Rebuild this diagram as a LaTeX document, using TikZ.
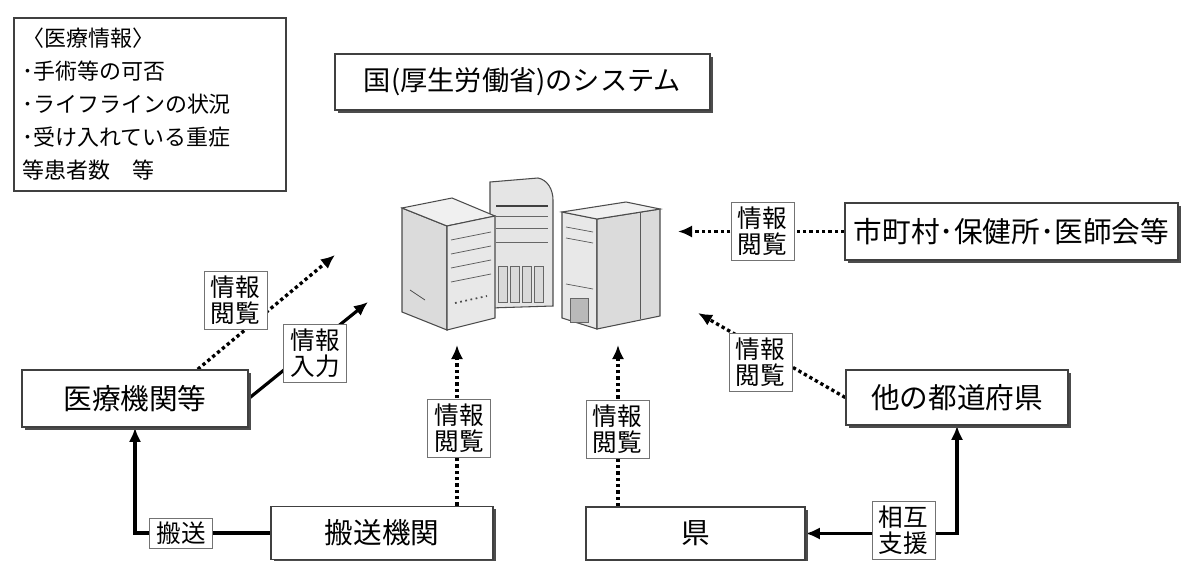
\documentclass[tikz,border=0pt]{standalone}
\usepackage{fontspec}
\setmainfont{Noto Sans CJK JP}
\usetikzlibrary{arrows.meta}
\usetikzlibrary{shadows}
\usetikzlibrary{backgrounds}

\begin{document}
\begin{tikzpicture}[x=0.02cm, y=-0.02cm,
  >={Latex[length=8pt,width=7pt]},
  box/.style={draw=black!75, line width=0.9pt, fill=white,
    font=\fontsize{16.3}{18}\selectfont,
    drop shadow={shadow xshift=1.5pt, shadow yshift=-1.6pt, fill=black!70, opacity=1}},
  tag/.style={draw=black!55, line width=0.5pt, fill=white, align=center,
    inner sep=1pt, minimum width=1.26cm, minimum height=1.16cm,
    font=\fontsize{14}{14.8}\selectfont},
  link/.style={line width=1.8pt, ->},
  view/.style={line width=1.9pt, dash pattern=on 1.9pt off 1.7pt, ->},
  srv/.style={draw=black!70, line width=0.6pt}]
  \useasboundingbox (0,0) rectangle (1181,561);

  \node[draw=black!75, line width=0.9pt, anchor=north west, align=left,
    text width=5.1cm, inner xsep=0.17cm, minimum height=3.46cm,
    font=\fontsize{12.5}{18.8}\selectfont] (info) at (13,17)
    {〈医療情報〉\\･手術等の可否\\･ライフラインの状況\\･受け入れている重症\\等患者数　等};

  \node[box, minimum width=7.5cm, minimum height=1.12cm,
    font=\fontsize{15.5}{17}\selectfont] (sys) at (522.5,82) {国(厚生労働省)のシステム};

  % servers
  \filldraw[srv, fill=gray!20] (490,182) -- (538,178)
    .. controls (548,180) and (553,190) .. (553,200) -- (553,306) -- (490,308) -- cycle;
  \draw[black!75, line width=1.2pt] (496,206) -- (548,206);
  \draw[black!60] (496,216) -- (548,216) (496,228) -- (548,228) (496,242) -- (548,242);
  \foreach \x in {498,510,522,534} {
    \draw[black!60, fill=gray!30] (\x,266) rectangle (\x+9,302);
  }

  \filldraw[srv, fill=gray!28] (402,208) -- (447,226) -- (447,330) -- (402,312) -- cycle;
  \filldraw[srv, fill=gray!12] (402,208) -- (447,226) -- (495,216) -- (452,198) -- cycle;
  \filldraw[srv, fill=gray!18] (447,226) -- (495,216) -- (495,318) -- (447,330) -- cycle;
  \foreach \y in {240,254,268,282} {
    \draw[black!65] (451,\y) -- (491,\y-8);
  }
  \draw[black!70, dotted, line width=1pt] (455,303) -- (487,296);
  \draw[black!70] (410,290) -- (425,300);

  \filldraw[srv, fill=gray!18] (562,212) -- (597,219) -- (597,329) -- (562,318) -- cycle;
  \filldraw[srv, fill=gray!28] (597,219) -- (660,209) -- (660,316) -- (597,329) -- cycle;
  \filldraw[srv, fill=gray!12] (562,212) -- (597,219) -- (660,209) -- (626,202) -- cycle;
  \draw[black!65] (640,212) -- (640,319);
  \draw[black!65] (566,227) -- (593,232) (566,238) -- (593,243) (566,284) -- (593,289);
  \filldraw[black!60, fill=gray!55] (570,298) rectangle (588,322);

  % boxes
  \node[box, minimum width=6.66cm, minimum height=1.14cm] (city) at (1011.5,231.5)
    {市町村･保健所･医師会等};
  \node[box, minimum width=4.52cm, minimum height=1.14cm] (med) at (135,398.5) {医療機関等};
  \node[box, minimum width=4.44cm, minimum height=1.1cm] (other) at (957,397.5) {他の都道府県};
  \node[box, minimum width=4.44cm, minimum height=1.06cm] (move) at (382,533) {搬送機関};
  \node[box, minimum width=4.38cm, minimum height=1.06cm] (pref) at (695.5,533.5) {県};

  \coordinate (viewTip) at (335,255);
  \coordinate (inTip) at (368,302);
  \coordinate (cityTip) at (678,231.5);
  \coordinate (otherTip) at (698,313);
  \coordinate (midTip) at (457,345);
  \coordinate (rightTip) at (618,345);

  \begin{scope}[on background layer]
    \draw[view] (med.25) -- (viewTip);
    \draw[link] (med.east) -- (inTip);
    \draw[view] (city.west) -- (cityTip);
    \draw[view] (other.west) -- (otherTip);
    \draw[view] (midTip |- move.north) -- (midTip);
    \draw[view] (rightTip |- pref.north) -- (rightTip);
    \draw[link] (move.west) -| (med.south);
    \draw[link, <->] (pref.east) -| (other.south);
  \end{scope}

  \node[tag] (viewTag) at (235.5,300) {情報\\閲覧};
  \node[tag] (inTag) at (315,353) {情報\\入力};
  \node[tag] (cityTag) at (762.5,231.5) {情報\\閲覧};
  \node[tag] (otherTag) at (760.5,362.5) {情報\\閲覧};
  \node[tag] (midTag) at (459,428) {情報\\閲覧};
  \node[tag] (rightTag) at (617.5,429) {情報\\閲覧};
  \node[tag, minimum height=0.6cm] (moveTag) at (181,533) {搬送};
  \node[tag] (mutualTag) at (903.5,530) {相互\\支援};
\end{tikzpicture}
\end{document}
